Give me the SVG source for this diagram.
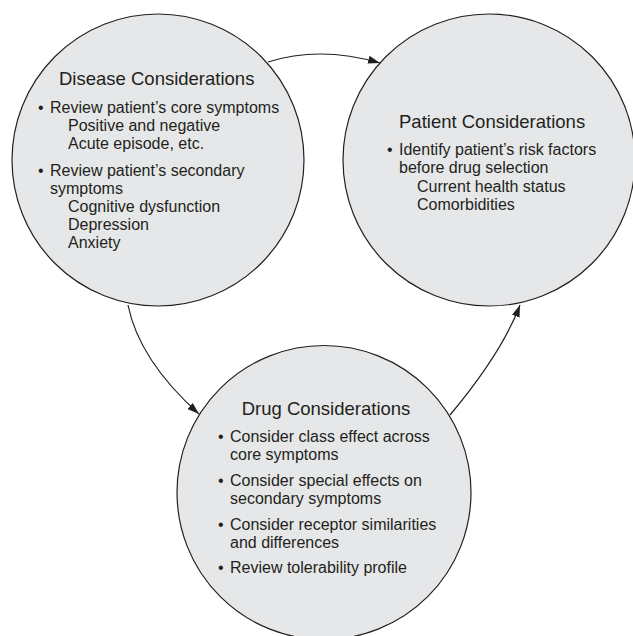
<svg xmlns="http://www.w3.org/2000/svg" width="633" height="636" viewBox="0 0 633 636">
<style>
.node{fill:#e6e7e8;stroke:#231f20;stroke-width:1.2}
.title{font-family:"Liberation Sans",Arial,sans-serif;font-size:18.5px;fill:#231f20}
.body{font-family:"Liberation Sans",Arial,sans-serif;font-size:16px;fill:#231f20}
.conn{fill:none;stroke:#231f20;stroke-width:1.2}
</style>
<defs>
<marker id="ah" markerWidth="13" markerHeight="8" refX="12" refY="4" orient="auto" markerUnits="userSpaceOnUse">
<path d="M0,0 L12,4 L0,8 Z" fill="#231f20"/>
</marker>
</defs>
<rect width="633" height="636" fill="#ffffff"/>
<g id="disease">
<circle class="node" cx="158" cy="160" r="146"/>
<text class="title" x="59" y="85">Disease Considerations</text>
<text class="body" x="38" y="112.5">•</text>
<text class="body" x="50" y="112.5">Review patient’s core symptoms</text>
<text class="body" x="68" y="131">Positive and negative</text>
<text class="body" x="68" y="149.3">Acute episode, etc.</text>
<text class="body" x="38" y="176">•</text>
<text class="body" x="50" y="176">Review patient’s secondary</text>
<text class="body" x="50" y="194">symptoms</text>
<text class="body" x="68" y="212">Cognitive dysfunction</text>
<text class="body" x="68" y="230">Depression</text>
<text class="body" x="68" y="248">Anxiety</text>
</g>
<g id="patient">
<circle class="node" cx="489" cy="160" r="146"/>
<text class="title" x="399" y="128.3">Patient Considerations</text>
<text class="body" x="387" y="155">•</text>
<text class="body" x="399" y="155">Identify patient’s risk factors</text>
<text class="body" x="399" y="173.3">before drug selection</text>
<text class="body" x="417" y="191.7">Current health status</text>
<text class="body" x="417" y="210">Comorbidities</text>
</g>
<g id="drug">
<circle class="node" cx="324" cy="492.5" r="147"/>
<text class="title" x="241.7" y="415">Drug Considerations</text>
<text class="body" x="218" y="441.7">•</text>
<text class="body" x="230" y="441.7">Consider class effect across</text>
<text class="body" x="230" y="460">core symptoms</text>
<text class="body" x="218" y="486">•</text>
<text class="body" x="230" y="486">Consider special effects on</text>
<text class="body" x="230" y="504">secondary symptoms</text>
<text class="body" x="218" y="530">•</text>
<text class="body" x="230" y="530">Consider receptor similarities</text>
<text class="body" x="230" y="547.7">and differences</text>
<text class="body" x="218" y="572.7">•</text>
<text class="body" x="230" y="572.7">Review tolerability profile</text>
</g>
<g id="connectors">
<path class="conn" d="M268,62 Q320,45.5 380,63" marker-end="url(#ah)"/>
<path class="conn" d="M128,305 Q139,360 199,414" marker-end="url(#ah)"/>
<path class="conn" d="M450,415 Q502,353 520,305" marker-end="url(#ah)"/>
</g>
</svg>
